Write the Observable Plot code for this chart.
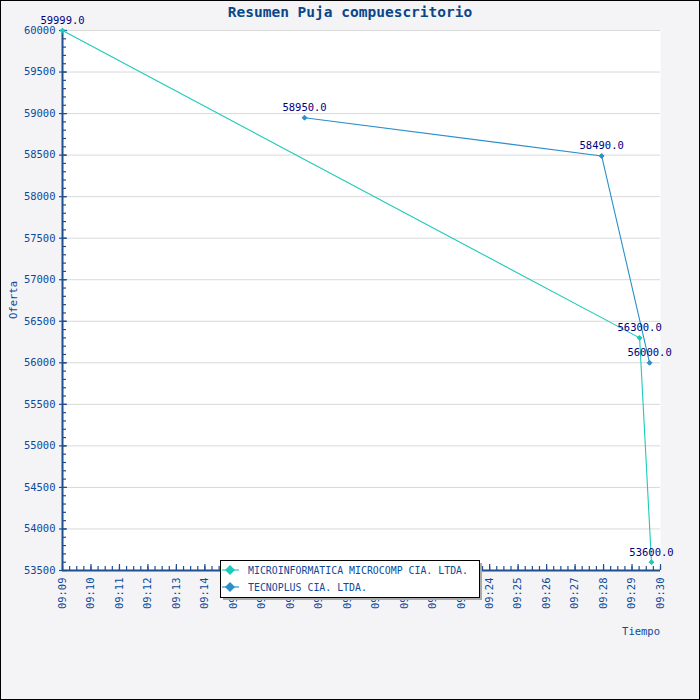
<!DOCTYPE html>
<html>
<head>
<meta charset="utf-8">
<script src="https://cdn.jsdelivr.net/npm/d3@7"></script>
<script src="https://cdn.jsdelivr.net/npm/@observablehq/plot@0.6"></script>
<style>
  html, body { margin: 0; padding: 0; background: #f4f4f6; }
  #chart { position: relative; width: 700px; height: 700px; }
  svg { display: block; }
</style>
</head>
<body>
<div id="chart"></div>
<script>
// ---- data ----
const title = "Resumen Puja compuescritorio";
const seriesNames = ["MICROINFORMATICA MICROCOMP CIA. LTDA.", "TECNOPLUS CIA. LTDA."];
const seriesColors = ["#1ccab9", "#2a8fca"];
const microTimes = ["09:09:00", "09:29:16", "09:29:41"];
const microValues = [59999, 56300, 53600];
const tecnoTimes = ["09:17:30", "09:27:56", "09:29:37"];
const tecnoValues = [58950, 58490, 56000];
const xTickLabels = ["09:09","09:10","09:11","09:12","09:13","09:14","09:15","09:16","09:17","09:18","09:19",
  "09:20","09:21","09:22","09:23","09:24","09:25","09:26","09:27","09:28","09:29","09:30"];
const yTicks = [53500,54000,54500,55000,55500,56000,56500,57000,57500,58000,58500,59000,59500,60000];
const xLabel = "Tiempo";
const yLabel = "Oferta";

// ---- build ----
const toDate = s => { const [h, m, sec] = s.split(":").map(Number); return new Date(Date.UTC(2020, 0, 1, h, m, sec || 0)); };
const rows = [];
microTimes.forEach((t, i) => rows.push({series: seriesNames[0], time: toDate(t), value: microValues[i]}));
tecnoTimes.forEach((t, i) => rows.push({series: seriesNames[1], time: toDate(t), value: tecnoValues[i]}));
const xMajor = xTickLabels.map(toDate);
const xMinor = d3.utcSecond.every(15).range(xMajor[0], xMajor[xMajor.length - 1]).concat([xMajor[xMajor.length - 1]]);
const yMinor = d3.range(yTicks[0], yTicks[yTicks.length - 1] + 1, 100);

const font = "'DejaVu Sans Mono', 'Liberation Mono', monospace";
const axisColor = "#1d4f91";
const labelColor = "#0d4a9c";

const plot = Plot.plot({
  width: 700,
  height: 700,
  marginLeft: 62,
  marginRight: 40,
  marginTop: 30,
  marginBottom: 130,
  style: {background: "#f4f4f6", fontFamily: font, fontSize: "10.5px", color: labelColor},
  x: {type: "utc", domain: [xMajor[0], xMajor[xMajor.length - 1]], label: null},
  y: {domain: [yTicks[0], yTicks[yTicks.length - 1]], label: null},
  color: {domain: seriesNames, range: seriesColors},
  marks: [
    Plot.frame({fill: "white", stroke: null}),
    Plot.gridY(yTicks.slice(1), {stroke: "#d9d9d9", strokeOpacity: 1}),
    // minor ticks (inside the frame)
    Plot.axisY(yMinor, {tickSize: 4, dx: 4, tickFormat: () => "", stroke: axisColor, strokeWidth: 1.2}),
    Plot.axisX(xMinor, {tickSize: 4, dy: -4, tickFormat: () => "", stroke: axisColor, strokeWidth: 1.2}),
    // major ticks
    Plot.axisY(yTicks, {tickSize: 3, tickPadding: 4, tickFormat: d => String(d), fill: labelColor, stroke: axisColor, strokeWidth: 1.2}),
    Plot.axisY(yTicks, {tickSize: 5, dx: 5, tickFormat: () => "", stroke: axisColor, strokeWidth: 1.2}),
    Plot.axisX(xMajor, {tickSize: 6, dy: -6, tickFormat: () => "", stroke: axisColor, strokeWidth: 1.2}),
    Plot.axisX(xMajor, {tickSize: 0, tickPadding: 7, tickRotate: -90, tickFormat: d3.utcFormat("%H:%M"), fill: labelColor}),
    Plot.ruleX([xMajor[0]], {stroke: axisColor, strokeWidth: 2}),
    Plot.ruleY([yTicks[0]], {stroke: axisColor, strokeWidth: 2}),
    Plot.line(rows, {x: "time", y: "value", z: "series", stroke: "series", strokeWidth: 1.1}),
    Plot.dot(rows, {x: "time", y: "value", fill: "series", stroke: "series", symbol: "diamond2", r: 2.2, strokeWidth: 1}),
    Plot.text(rows, {x: "time", y: "value", text: d => d.value.toFixed(1), dy: -10, fill: "#000080", fontSize: 10.5})
  ]
});

document.getElementById("chart").appendChild(plot);

// decorations: title, axis labels, legend, frame
const svg = d3.select(plot);
svg.append("text").attr("x", 350).attr("y", 17).attr("text-anchor", "middle")
  .attr("font-family", font).attr("font-size", 14.5).attr("font-weight", "bold").attr("fill", "#0a468a").text(title);
svg.append("text").attr("transform", "translate(17,300) rotate(-90)").attr("text-anchor", "middle")
  .attr("font-family", font).attr("font-size", 10.5).attr("fill", labelColor).text(yLabel);
svg.append("text").attr("x", 660).attr("y", 635).attr("text-anchor", "end")
  .attr("font-family", font).attr("font-size", 10.5).attr("fill", labelColor).text(xLabel);

const lg = svg.append("g");
lg.append("rect").attr("x", 223).attr("y", 563).attr("width", 259).attr("height", 37).attr("fill", "#aaaaaa");
lg.append("rect").attr("x", 220.5).attr("y", 560.5).attr("width", 259).attr("height", 37).attr("fill", "white").attr("stroke", "black").attr("stroke-width", 1);
seriesNames.forEach((name, i) => {
  const cy = 570 + i * 17;
  lg.append("line").attr("x1", 222).attr("x2", 239).attr("y1", cy).attr("y2", cy).attr("stroke", seriesColors[i]).attr("stroke-width", 1.2);
  lg.append("path").attr("d", `M230,${cy - 5}L235,${cy}L230,${cy + 5}L225,${cy}Z`).attr("fill", seriesColors[i]);
  lg.append("text").attr("x", 248).attr("y", cy + 4).attr("text-anchor", "start").attr("font-family", font).attr("font-size", 9.9).attr("fill", labelColor).text(name);
});
svg.append("rect").attr("x", 0.5).attr("y", 0.5).attr("width", 699).attr("height", 699).attr("fill", "none").attr("stroke", "black");
</script>
</body>
</html>
